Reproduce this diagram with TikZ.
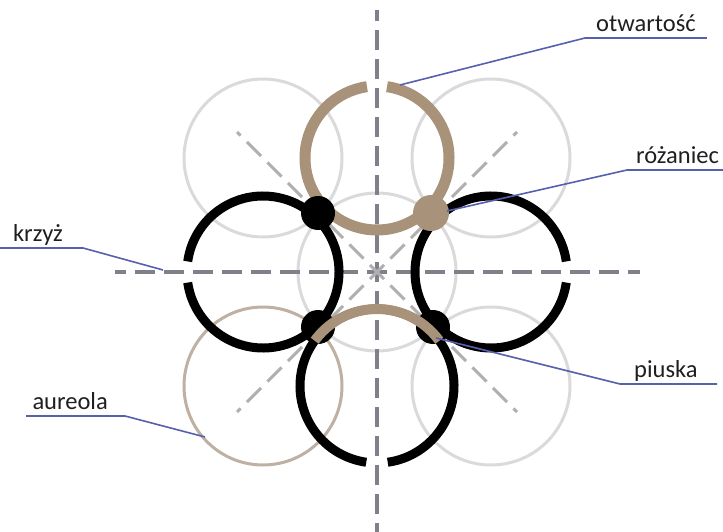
\documentclass[tikz,border=0pt]{standalone}
\usepackage{fontspec}
\setmainfont{Carlito}
\usetikzlibrary{positioning}

\definecolor{ringtan}{RGB}{168,146,122}
\definecolor{halotan}{RGB}{190,176,162}
\definecolor{ghostgray}{RGB}{218,218,218}
\definecolor{axisgray}{RGB}{128,128,138}
\definecolor{diaggray}{RGB}{176,176,176}
\definecolor{leaderblue}{RGB}{86,96,172}

\begin{document}
\begin{tikzpicture}[x=1pt, y=-1pt, font=\fontsize{24.5}{28}\selectfont,
  ghost/.style={draw=ghostgray, line width=3pt},
  halo/.style={draw=halotan, line width=3pt},
  ring/.style={draw=black, line width=9pt},
  tanring/.style={draw=ringtan, line width=11pt},
  axis/.style={draw=axisgray, line width=3.5pt, dash pattern=on 20pt off 9pt, dash phase=10pt},
  diag/.style={axis, draw=diaggray, line width=3pt},
  leader/.style={draw=leaderblue, line width=1.6pt},
  lbl/.style={inner xsep=11pt, inner ysep=6pt, text depth=0pt, text=black!88}]

\useasboundingbox (0,0) rectangle (723,532);

% centres of the 3x3 grid of rings
\foreach \p/\x/\y in {tl/263/158, tc/377/158, tr/491/158,
                      ml/263/272, mc/377/272, mr/491/272,
                      bl/263/386, bc/377/386, br/491/386}
  \coordinate (\p) at (\x,\y);

% faint background rings
\foreach \p in {tl, tr, mc, br}
  \draw[ghost] (\p) circle[radius=79];
\draw[halo] (bl) circle[radius=79];

% cross and diagonals
\foreach \p/\x/\y in {up/377/10, down/377/532, west/115/272, east/640/272}
  \coordinate (\p) at (\x,\y);
\foreach \p in {up, down, west, east}
  \draw[axis] (mc) -- (\p);
\foreach \x/\y in {237/132, 517/132, 237/412, 517/412}
  \draw[diag] (mc) -- (\x,\y);

% open rings
\draw[ring] (ml) ++(188:76) arc[start angle=188, end angle=532, radius=76];
\draw[ring] (mr) ++(8:76) arc[start angle=8, end angle=352, radius=76];
\draw[ring] (bc) ++(98:77) arc[start angle=98, end angle=442, radius=77];
\draw[tanring] (tc) ++(-82:72) arc[start angle=-82, end angle=262, radius=72];

% joints
\coordinate (jtl) at (318,213);
\coordinate (jtr) at (431,213);
\coordinate (jbl) at (318,327);
\coordinate (jbr) at (433,327);
\fill (jtl) circle[radius=17];
\fill[ringtan] (jtr) circle[radius=18];
\fill (jbl) circle[radius=17];
\fill (jbr) circle[radius=17];

% tan cap over the lower ring
\draw[tanring, line width=10pt] (bc) ++(-36:77) arc[start angle=-36, end angle=-144, radius=77];

% labels and leaders
\node[lbl, anchor=south west] (otw) at (585,38) {otwartość};
\coordinate (otwTip) at (400,85);
\draw[leader] (otwTip) -- (otw.south west) -- (otw.south east);

\node[lbl, anchor=south west, inner xsep=9pt] (roz) at (627,170) {różaniec};
\coordinate (rozTip) at (447,211);
\coordinate (rozEnd) at (723,170);
\draw[leader] (rozTip) -- (roz.south west) -- (rozEnd);

\node[lbl, anchor=south west, inner xsep=14pt] (piu) at (620,384) {piuska};
\coordinate (piuTip) at (436,338);
\coordinate (piuEnd) at (717,384);
\draw[leader] (piuTip) -- (piu.south west) -- (piuEnd);

\node[lbl, anchor=south east, inner xsep=20pt] (krz) at (83,248) {krzyż};
\coordinate (krzTip) at (163,270);
\coordinate (krzEnd) at (0,248);
\draw[leader] (krzTip) -- (krz.south east) -- (krzEnd);

\node[lbl, anchor=south east, inner xsep=17pt] (aur) at (125,416) {aureola};
\coordinate (aurTip) at (205,437);
\coordinate (aurEnd) at (26,416);
\draw[leader] (aurTip) -- (aur.south east) -- (aurEnd);

\end{tikzpicture}
\end{document}
